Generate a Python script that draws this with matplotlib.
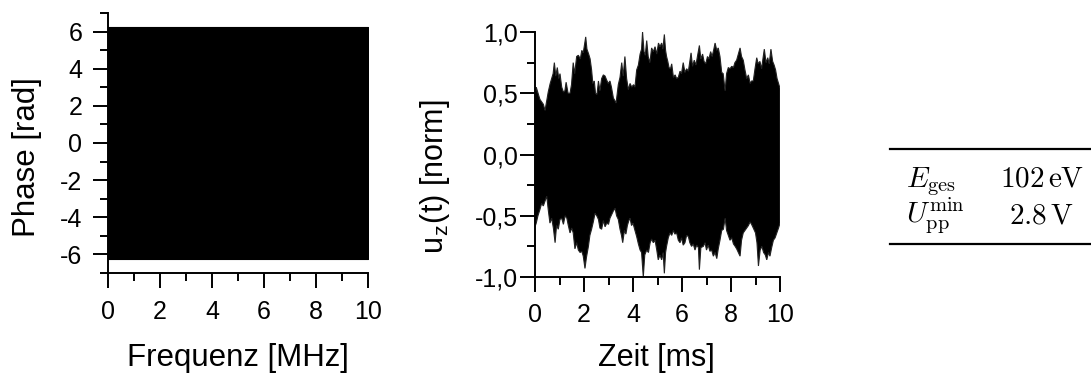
import numpy as np
import matplotlib
matplotlib.use('Agg')
import matplotlib.pyplot as plt
from matplotlib.ticker import MultipleLocator, FuncFormatter
from matplotlib.lines import Line2D

plt.rcParams['font.family'] = ['Liberation Sans', 'DejaVu Sans']
plt.rcParams['mathtext.fontset'] = 'cm'
plt.rcParams['axes.unicode_minus'] = False

# phase spectrum: wrapped phase fills the band between -2pi and 2pi
freq = [0.0, 10.0]
phase_hi = [6.27, 6.27]
phase_lo = [-6.27, -6.27]

# time signal: envelope (t in ms, u in norm units)
t_upper = [0.0, 0.05, 0.2, 0.34, 0.41, 0.48, 0.54, 0.62, 0.68, 0.74, 0.79, 0.85, 0.91, 0.97,
           1.02, 1.09, 1.16, 1.22, 1.27, 1.35, 1.43, 1.49, 1.56, 1.62, 1.70, 1.77, 1.85, 1.91,
           1.97, 2.07, 2.12, 2.19, 2.25, 2.31, 2.36, 2.42, 2.47, 2.53, 2.59, 2.65, 2.72, 2.79,
           2.86, 2.92, 2.99, 3.06, 3.12, 3.20, 3.26, 3.31, 3.40, 3.47, 3.54, 3.60, 3.67, 3.74,
           3.81, 3.88, 3.95, 4.02, 4.08, 4.15, 4.22, 4.29, 4.35, 4.39, 4.45, 4.50, 4.56, 4.62,
           4.69, 4.76, 4.83, 4.90, 4.97, 5.04, 5.10, 5.17, 5.22, 5.28, 5.33, 5.37, 5.42, 5.47,
           5.53, 5.58, 5.65, 5.72, 5.78, 5.85, 5.92, 5.98, 6.05, 6.12, 6.19, 6.26, 6.32, 6.37,
           6.43, 6.50, 6.57, 6.63, 6.71, 6.77, 6.84, 6.90, 6.97, 7.04, 7.10, 7.17, 7.23, 7.30,
           7.35, 7.42, 7.48, 7.55, 7.62, 7.68, 7.76, 7.82, 7.89, 7.96, 8.03, 8.10, 8.16, 8.23,
           8.30, 8.37, 8.43, 8.50, 8.57, 8.64, 8.71, 8.78, 8.84, 8.91, 8.98, 9.05, 9.11, 9.18,
           9.25, 9.31, 9.36, 9.43, 9.50, 9.56, 9.63, 9.70, 9.76, 9.82, 9.88, 9.94, 10.0]
u_upper = [0.47, 0.55, 0.45, 0.41, 0.36, 0.44, 0.51, 0.58, 0.62, 0.66, 0.75, 0.64, 0.71, 0.62,
           0.66, 0.55, 0.51, 0.52, 0.59, 0.50, 0.50, 0.57, 0.75, 0.66, 0.80, 0.81, 0.78, 0.85,
           0.83, 0.96, 0.86, 0.82, 0.78, 0.69, 0.58, 0.60, 0.50, 0.49, 0.60, 0.52, 0.62, 0.65,
           0.64, 0.61, 0.58, 0.60, 0.55, 0.46, 0.44, 0.42, 0.57, 0.63, 0.75, 0.64, 0.80, 0.62,
           0.53, 0.58, 0.55, 0.57, 0.55, 0.69, 0.73, 0.82, 0.86, 1.00, 0.84, 0.81, 0.93, 0.80,
           0.75, 0.87, 0.84, 0.88, 0.82, 0.91, 0.88, 0.91, 0.86, 0.98, 0.85, 0.80, 0.76, 0.71,
           0.70, 0.74, 0.63, 0.65, 0.62, 0.63, 0.68, 0.66, 0.75, 0.67, 0.70, 0.68, 0.76, 0.83,
           0.72, 0.77, 0.73, 0.80, 0.89, 0.78, 0.82, 0.76, 0.74, 0.80, 0.78, 0.84, 0.80, 0.86,
           0.91, 0.85, 0.87, 0.80, 0.67, 0.66, 0.52, 0.66, 0.71, 0.70, 0.72, 0.71, 0.75, 0.77,
           0.82, 0.87, 0.80, 0.77, 0.69, 0.62, 0.65, 0.58, 0.60, 0.60, 0.70, 0.79, 0.74, 0.76,
           0.70, 0.79, 0.86, 0.75, 0.79, 0.74, 0.86, 0.76, 0.73, 0.69, 0.62, 0.58, 0.54]

t_lower = [0.0, 0.05, 0.12, 0.20, 0.27, 0.34, 0.41, 0.48, 0.54, 0.61, 0.68, 0.75, 0.82, 0.88,
           0.95, 1.02, 1.09, 1.16, 1.23, 1.30, 1.36, 1.43, 1.50, 1.56, 1.63, 1.70, 1.77, 1.84,
           1.91, 1.97, 2.04, 2.10, 2.18, 2.24, 2.31, 2.38, 2.45, 2.52, 2.59, 2.65, 2.72, 2.79,
           2.86, 2.93, 3.00, 3.06, 3.13, 3.20, 3.27, 3.33, 3.40, 3.47, 3.53, 3.58, 3.65, 3.71,
           3.77, 3.83, 3.88, 3.94, 4.00, 4.08, 4.15, 4.22, 4.29, 4.35, 4.42, 4.48, 4.56, 4.63,
           4.70, 4.76, 4.83, 4.90, 4.97, 5.03, 5.10, 5.17, 5.23, 5.28, 5.33, 5.37, 5.44, 5.51,
           5.58, 5.65, 5.71, 5.78, 5.85, 5.92, 5.98, 6.05, 6.12, 6.19, 6.26, 6.32, 6.39, 6.46,
           6.53, 6.60, 6.67, 6.71, 6.77, 6.87, 6.94, 7.00, 7.07, 7.14, 7.21, 7.28, 7.35, 7.42,
           7.48, 7.55, 7.62, 7.69, 7.76, 7.82, 7.89, 7.96, 8.03, 8.10, 8.17, 8.23, 8.30, 8.37,
           8.43, 8.50, 8.57, 8.64, 8.71, 8.78, 8.84, 8.91, 9.00, 9.06, 9.12, 9.19, 9.26, 9.33,
           9.40, 9.46, 9.53, 9.59, 9.66, 9.73, 9.80, 9.87, 9.94, 10.0]
u_lower = [-0.59, -0.56, -0.50, -0.45, -0.40, -0.42, -0.38, -0.34, -0.45, -0.56, -0.52, -0.60,
           -0.72, -0.58, -0.61, -0.53, -0.52, -0.57, -0.50, -0.52, -0.58, -0.64, -0.60, -0.64,
           -0.77, -0.72, -0.78, -0.80, -0.79, -0.83, -0.93, -0.84, -0.75, -0.66, -0.61, -0.55,
           -0.48, -0.50, -0.53, -0.60, -0.61, -0.54, -0.59, -0.56, -0.57, -0.52, -0.49, -0.46,
           -0.44, -0.50, -0.53, -0.61, -0.66, -0.72, -0.62, -0.65, -0.58, -0.54, -0.52, -0.58,
           -0.56, -0.62, -0.67, -0.73, -0.78, -0.80, -1.00, -0.82, -0.78, -0.80, -0.72, -0.69,
           -0.72, -0.70, -0.78, -0.86, -0.82, -0.86, -0.80, -0.97, -0.80, -0.75, -0.68, -0.64,
           -0.66, -0.62, -0.65, -0.64, -0.70, -0.72, -0.68, -0.74, -0.72, -0.66, -0.67, -0.72,
           -0.75, -0.73, -0.78, -0.74, -0.76, -0.94, -0.76, -0.75, -0.72, -0.78, -0.74, -0.79,
           -0.78, -0.83, -0.80, -0.85, -0.77, -0.70, -0.62, -0.61, -0.52, -0.62, -0.66, -0.70,
           -0.68, -0.73, -0.75, -0.77, -0.80, -0.83, -0.70, -0.64, -0.62, -0.60, -0.58, -0.55,
           -0.57, -0.60, -0.64, -0.72, -0.91, -0.78, -0.75, -0.80, -0.82, -0.86, -0.80, -0.83,
           -0.76, -0.70, -0.68, -0.64, -0.60, -0.56]

table_labels = [r'$E_{\mathrm{ges}}$', r'$U_{\mathrm{pp}}^{\mathrm{min}}$']
table_values = [r'$102\,\mathrm{eV}$', r'$2.8\,\mathrm{V}$']

W, H = 1091, 378
fig = plt.figure(figsize=(W / 100, H / 100), dpi=100)

def style_axes(ax, ypad):
    for s in ['top', 'right']:
        ax.spines[s].set_visible(False)
    for s in ['left', 'bottom']:
        ax.spines[s].set_linewidth(1.4)
    ax.tick_params(which='major', direction='out', length=10.5, width=1.4, labelsize=18)
    ax.tick_params(which='minor', direction='out', length=6, width=1.4)
    ax.tick_params(axis='y', which='major', pad=ypad)

# left: phase
ax1 = fig.add_axes([108 / W, 1 - 273 / H, 260 / W, 260 / H])
ax1.fill_between(freq, phase_lo, phase_hi, color='black', lw=0.8)
ax1.set_xlim(0, 10)
ax1.set_ylim(-7, 7)
ax1.xaxis.set_major_locator(MultipleLocator(2))
ax1.xaxis.set_minor_locator(MultipleLocator(1))
ax1.yaxis.set_major_locator(MultipleLocator(2))
ax1.yaxis.set_minor_locator(MultipleLocator(1))
style_axes(ax1, 8)
ax1.tick_params(axis='x', which='major', pad=9)
ax1.set_xlabel('Frequenz [MHz]', fontsize=22.5, va='center')
ax1.xaxis.set_label_coords(0.498, -0.327)
ax1.set_ylabel('Phase [rad]', fontsize=22.5, va='center')
ax1.yaxis.set_label_coords(-0.31, 0.444)

# middle: time signal
ax2 = fig.add_axes([535 / W, 1 - 277 / H, 245 / W, 245 / H])
poly_t = np.concatenate([t_upper, t_lower[::-1]])
poly_u = np.concatenate([u_upper, u_lower[::-1]])
ax2.fill(poly_t, poly_u, facecolor='black', edgecolor='#222222', lw=0.8)
ax2.set_xlim(0, 10)
ax2.set_ylim(-1, 1)
ax2.xaxis.set_major_locator(MultipleLocator(2))
ax2.xaxis.set_minor_locator(MultipleLocator(1))
ax2.yaxis.set_major_locator(MultipleLocator(0.5))
ax2.yaxis.set_minor_locator(MultipleLocator(0.25))
ax2.yaxis.set_major_formatter(FuncFormatter(lambda v, p: f'{v:.1f}'.replace('.', ',')))
style_axes(ax2, 2)
ax2.tick_params(axis='x', which='major', pad=8)
ax2.set_xlabel('Zeit [ms]', fontsize=22, va='center')
ax2.xaxis.set_label_coords(0.497, -0.33)
ax2.set_ylabel(r'u$_\mathregular{z}$(t) [norm]', fontsize=22, va='center')
ax2.yaxis.set_label_coords(-0.408, 0.41)

# right: parameter table
fig.add_artist(Line2D([890 / W, 1.0], [1 - 149 / H, 1 - 149 / H], color='black', lw=1.6))
fig.add_artist(Line2D([890 / W, 1.0], [1 - 244 / H, 1 - 244 / H], color='black', lw=1.6))
row_y = [1 - 187 / H, 1 - 223 / H]
for lab, val, y in zip(table_labels, table_values, row_y):
    fig.text(906 / W, y, lab, fontsize=21, ha='left', va='baseline')
    fig.text(1041.7 / W, y, val, fontsize=21, ha='center', va='baseline')

fig.savefig('out.png', dpi=100)
